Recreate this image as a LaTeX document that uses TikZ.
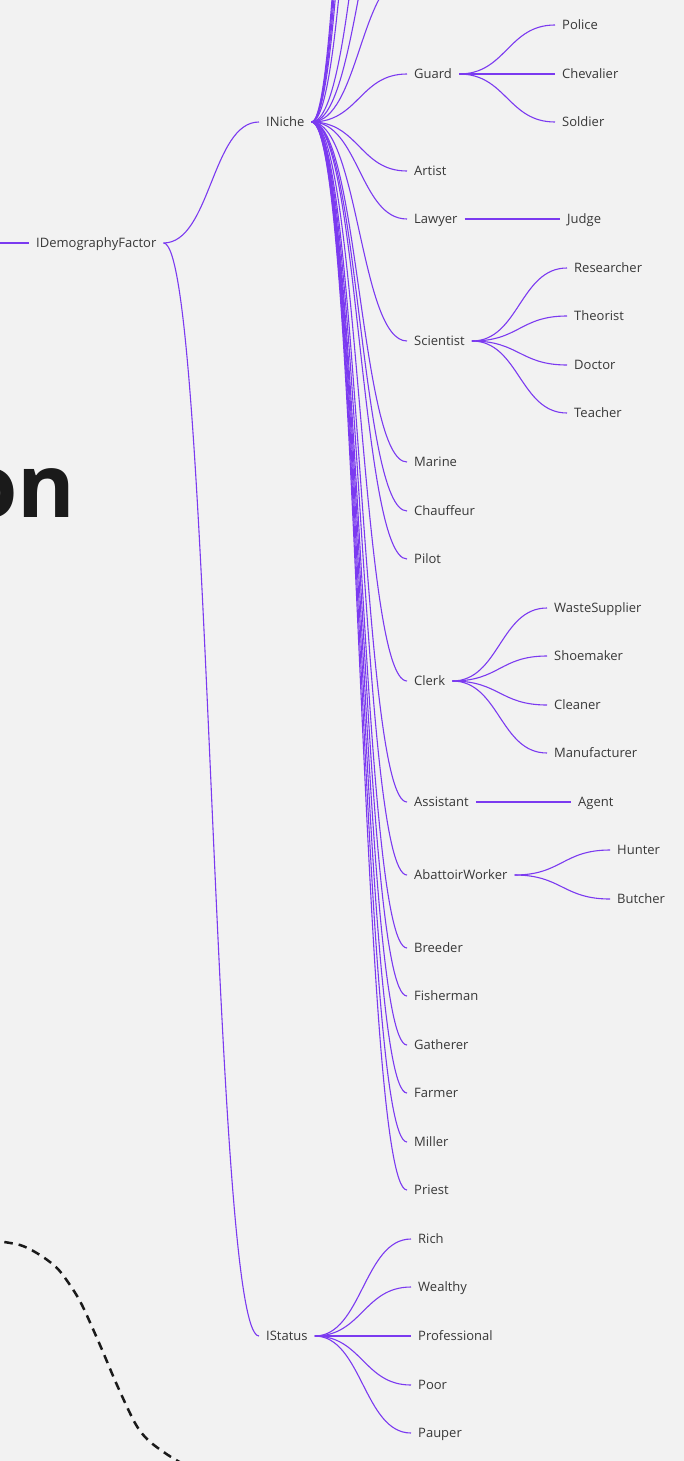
\documentclass[tikz,border=0pt]{standalone}
\usepackage{fontspec}
\setmainfont{Open Sans}
\definecolor{bg}{HTML}{F2F2F2}
\definecolor{mm}{HTML}{7B3AF0}
\definecolor{tx}{HTML}{383838}
\definecolor{ttl}{HTML}{1A1A1A}
\newcommand\mmconn[2]{\draw[br] (#1) .. controls +(47,0) and +(-47,0) .. (#2);}
\begin{document}
\begin{tikzpicture}[x=1pt,y=-1pt,
  lbl/.style={anchor=west,inner xsep=7pt,inner ysep=0pt,text height=9.3pt,text depth=0pt,font=\fontsize{13}{15}\selectfont,text=tx},
  br/.style={draw=mm,line width=1.1pt}]
\useasboundingbox (0,0) rectangle (684,1461);
\fill[bg] (0,0) rectangle (684,1461);
\clip (0,0) rectangle (684,1461);

% big partial title
\node[anchor=base east,inner sep=0pt,font=\fontsize{88}{88}\selectfont\bfseries,text=ttl] (title) at (76,517) {on};

% dashed decoration
\draw[ttl,line width=2.5pt,dash pattern=on 8.5pt off 6pt] plot[smooth] coordinates {(-10,1240) (20,1245) (40,1255) (57,1268) (70,1285) (82,1305) (100,1345) (117,1385) (135,1423) (148,1440) (168,1455) (190,1468)};

% nodes
\node[lbl] (IDF) at (29,243) {IDemographyFactor};
\node[lbl] (INiche) at (259,122) {INiche};
\node[lbl] (IStatus) at (259,1336) {IStatus};

\node[lbl] (Guard) at (407,74) {Guard};
\node[lbl] (Artist) at (407,171) {Artist};
\node[lbl] (Lawyer) at (407,219) {Lawyer};
\node[lbl] (Scientist) at (407,341) {Scientist};
\node[lbl] (Marine) at (407,462) {Marine};
\node[lbl] (Chauffeur) at (407,511) {Chauffeur};
\node[lbl] (Pilot) at (407,559) {Pilot};
\node[lbl] (Clerk) at (407,681) {Clerk};
\node[lbl] (Assistant) at (407,802) {Assistant};
\node[lbl] (Abattoir) at (407,875) {AbattoirWorker};
\node[lbl] (Breeder) at (407,948) {Breeder};
\node[lbl] (Fisherman) at (407,996) {Fisherman};
\node[lbl] (Gatherer) at (407,1045) {Gatherer};
\node[lbl] (Farmer) at (407,1093) {Farmer};
\node[lbl] (Miller) at (407,1142) {Miller};
\node[lbl] (Priest) at (407,1190) {Priest};

\node[lbl] (Police) at (555,25) {Police};
\node[lbl] (Chevalier) at (555,74) {Chevalier};
\node[lbl] (Soldier) at (555,122) {Soldier};
\node[lbl] (Judge) at (560,219) {Judge};
\node[lbl] (Researcher) at (567,268) {Researcher};
\node[lbl] (Theorist) at (567,316) {Theorist};
\node[lbl] (Doctor) at (567,365) {Doctor};
\node[lbl] (Teacher) at (567,413) {Teacher};
\node[lbl] (Waste) at (547,608) {WasteSupplier};
\node[lbl] (Shoemaker) at (547,656) {Shoemaker};
\node[lbl] (Cleaner) at (547,705) {Cleaner};
\node[lbl] (Manufacturer) at (547,753) {Manufacturer};
\node[lbl] (Agent) at (571,802) {Agent};
\node[lbl] (Hunter) at (610,850) {Hunter};
\node[lbl] (Butcher) at (610,899) {Butcher};

\node[lbl] (Rich) at (411,1239) {Rich};
\node[lbl] (Wealthy) at (411,1287) {Wealthy};
\node[lbl] (Professional) at (411,1336) {Professional};
\node[lbl] (Poor) at (411,1385) {Poor};
\node[lbl] (Pauper) at (411,1433) {Pauper};

% off-frame ends
\coordinate (lft) at (-60,243);
\coordinate (u1) at (408,-25);
\coordinate (u2) at (408,-140);
\coordinate (u3) at (408,-300);
\coordinate (u4) at (408,-750);
\coordinate (u5) at (408,-1050);
\coordinate (u6) at (408,-1200);
\coordinate (u7) at (408,-1350);
\coordinate (u8) at (408,-1500);

% connectors
\draw[br] (lft) -- (IDF.west);
\mmconn{IDF.east}{INiche.west}
\mmconn{IDF.east}{IStatus.west}
\foreach \c in {u1,u2,u3,u4,u5,u6,u7,u8}{\mmconn{INiche.east}{\c}}
\foreach \c in {Guard,Artist,Lawyer,Scientist,Marine,Chauffeur,Pilot,Clerk,Assistant,Abattoir,Breeder,Fisherman,Gatherer,Farmer,Miller,Priest}{\mmconn{INiche.east}{\c.west}}
\foreach \c in {Police,Chevalier,Soldier}{\mmconn{Guard.east}{\c.west}}
\mmconn{Lawyer.east}{Judge.west}
\foreach \c in {Researcher,Theorist,Doctor,Teacher}{\mmconn{Scientist.east}{\c.west}}
\foreach \c in {Waste,Shoemaker,Cleaner,Manufacturer}{\mmconn{Clerk.east}{\c.west}}
\mmconn{Assistant.east}{Agent.west}
\foreach \c in {Hunter,Butcher}{\mmconn{Abattoir.east}{\c.west}}
\foreach \c in {Rich,Wealthy,Professional,Poor,Pauper}{\mmconn{IStatus.east}{\c.west}}
\end{tikzpicture}
\end{document}
